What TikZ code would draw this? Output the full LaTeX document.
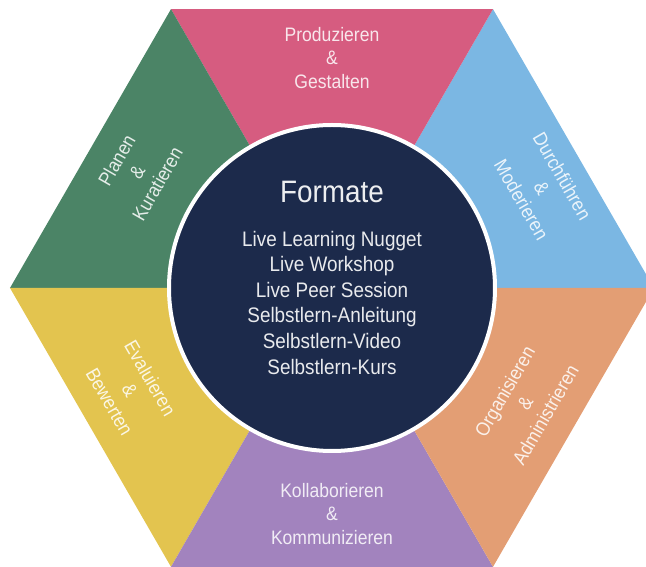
\documentclass[tikz,border=0pt]{standalone}
\usepackage{fontspec}
\setmainfont{Liberation Sans}[FakeStretch=0.9]

\definecolor{hexBlue}{RGB}{123,183,227}
\definecolor{hexPink}{RGB}{214,92,128}
\definecolor{hexGreen}{RGB}{75,132,102}
\definecolor{hexYellow}{RGB}{227,196,79}
\definecolor{hexPurple}{RGB}{162,131,190}
\definecolor{hexOrange}{RGB}{227,158,116}
\definecolor{hexNavy}{RGB}{28,42,75}

\tikzset{
  hub/.style     = {circle, fill=hexNavy, draw=white, line width=4pt, inner sep=0pt, minimum size=326pt},
  title/.style   = {text=white, text opacity=0.92, font=\fontsize{31}{36}\selectfont},
  fmt/.style     = {text=white, text opacity=0.9, font=\fontsize{21}{25}\selectfont,
                    text height=1.55ex, text depth=0.35ex, inner sep=0pt},
  seglabel/.style = {align=center, text=white, text opacity=0.85,
                    font=\fontsize{19.5}{23.5}\selectfont}
}

\begin{document}
\begin{tikzpicture}[x=1pt, y=1pt, node distance=25.6pt]
\useasboundingbox (-332,-279) rectangle (314,288);
\clip (-332,-279) rectangle (314,288);

% the six triangles of the hexagon, counter-clockwise from the right
\foreach \a/\col in {0/hexBlue, 60/hexPink, 120/hexGreen, 180/hexYellow, 240/hexPurple, 300/hexOrange}
  \fill[\col] (0,0) -- (\a:322pt) -- (\a+60:322pt) -- cycle;

% centre disc with its white rim
\node[hub] (hub) at (0,0) {};
\node[title] (formate) at (0,96) {Formate};

% list of formats, stacked one below the other
\node[fmt] (f1) at (0,45) {Live Learning Nugget};
\node[fmt, below of = f1] (f2) {Live Workshop};
\node[fmt, below of = f2] (f3) {Live Peer Session};
\node[fmt, below of = f3] (f4) {Selbstlern-Anleitung};
\node[fmt, below of = f4] (f5) {Selbstlern-Video};
\node[fmt, below of = f5] (f6) {Selbstlern-Kurs};

% labels of the segments
\node[seglabel] (prod) at (0,230) {Produzieren\\\&\\Gestalten};
\node[seglabel, rotate=-60] (durch) at (210,100) {Durchführen\\\&\\Moderieren};
\node[seglabel, rotate=60] (orga) at (193,-115) {Organisieren\\\&\\Administrieren};
\node[seglabel] (koll) at (0,-226) {Kollaborieren\\\&\\Kommunizieren};
\node[seglabel, rotate=-60] (eval) at (-202,-102) {Evaluieren\\\&\\Bewerten};
\node[seglabel, rotate=60] (plan) at (-195,116) {Planen\\\&\\Kuratieren};
\end{tikzpicture}
\end{document}
